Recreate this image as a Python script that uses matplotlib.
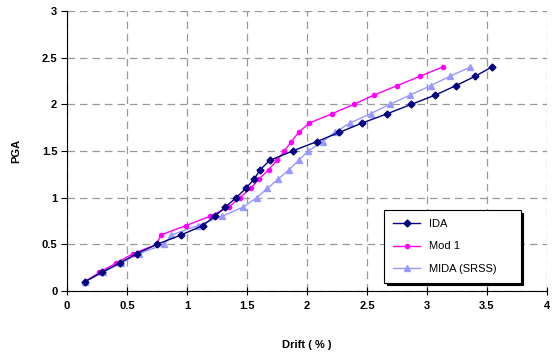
import matplotlib
matplotlib.use("Agg")
import matplotlib.pyplot as plt

plt.rcParams['font.family'] = ['Liberation Sans', 'DejaVu Sans']

# PGA levels (shared by all series)
pga = [0.1, 0.2, 0.3, 0.4, 0.5, 0.6, 0.7, 0.8, 0.9, 1.0, 1.1, 1.2,
       1.3, 1.4, 1.5, 1.6, 1.7, 1.8, 1.9, 2.0, 2.1, 2.2, 2.3, 2.4]

ida_drift = [0.15, 0.29, 0.44, 0.58, 0.75, 0.95, 1.13, 1.23, 1.32, 1.41,
             1.49, 1.56, 1.61, 1.69, 1.88, 2.08, 2.27, 2.46, 2.67, 2.87,
             3.07, 3.24, 3.40, 3.54]
mod1_drift = [0.15, 0.27, 0.41, 0.55, 0.75, 0.78, 0.99, 1.19, 1.35, 1.44,
              1.53, 1.60, 1.68, 1.75, 1.81, 1.87, 1.93, 2.02, 2.21, 2.39,
              2.56, 2.75, 2.94, 3.13]
mida_drift = [0.15, 0.30, 0.45, 0.60, 0.81, 0.87, 1.09, 1.29, 1.47, 1.58,
              1.67, 1.76, 1.85, 1.93, 2.01, 2.13, 2.23, 2.36, 2.53, 2.69,
              2.86, 3.03, 3.19, 3.36]

fig = plt.figure(figsize=(5.52, 3.56), dpi=100)
ax = fig.add_axes([0.1214, 0.1826, 0.8696, 0.7865])

ax.plot(ida_drift, pga, color='#000080', marker='D', markersize=3.5,
        linewidth=1, label='IDA', zorder=4)
ax.plot(mod1_drift, pga, color='#ff00ff', marker='o', markersize=3,
        linewidth=1, label='Mod 1', zorder=3)
ax.plot(mida_drift, pga, color='#9999ff', marker='^', markersize=5,
        linewidth=1, label='MIDA (SRSS)', zorder=2)

ax.set_xlim(0, 4)
ax.set_ylim(0, 3)
ax.set_xticks([0, 0.5, 1, 1.5, 2, 2.5, 3, 3.5, 4])
ax.set_xticklabels(['0', '0.5', '1', '1.5', '2', '2.5', '3', '3.5', '4'])
ax.set_yticks([0, 0.5, 1, 1.5, 2, 2.5, 3])
ax.set_yticklabels(['0', '0.5', '1', '1.5', '2', '2.5', '3'])

ax.grid(True, color='#999999', linestyle=(0, (6, 4)), linewidth=0.9)
ax.set_axisbelow(True)
ax.spines['top'].set_visible(False)
ax.spines['right'].set_visible(False)
ax.tick_params(axis='x', direction='inout', length=6, width=0.8, labelsize=8, pad=4)
ax.tick_params(axis='y', direction='out', length=4, width=0.8, labelsize=8, pad=3)
for lab in ax.get_xticklabels() + ax.get_yticklabels():
    lab.set_fontweight('bold')

ax.set_xlabel('Drift ( % )', fontsize=8, fontweight='bold', labelpad=21)
ax.set_ylabel('PGA', fontsize=8, fontweight='bold', labelpad=15)

leg = ax.legend(loc='lower left', bbox_to_anchor=(0.66, 0.03, 0.285, 0.28),
                mode='expand', fontsize=8, frameon=True, fancybox=False,
                shadow={'color': 'black', 'alpha': 1}, borderpad=0.8,
                labelspacing=1.1, handlelength=2.5, borderaxespad=0)
leg.get_frame().set_edgecolor('black')
leg.get_frame().set_linewidth(0.8)

fig.savefig('out.png', dpi=100)
